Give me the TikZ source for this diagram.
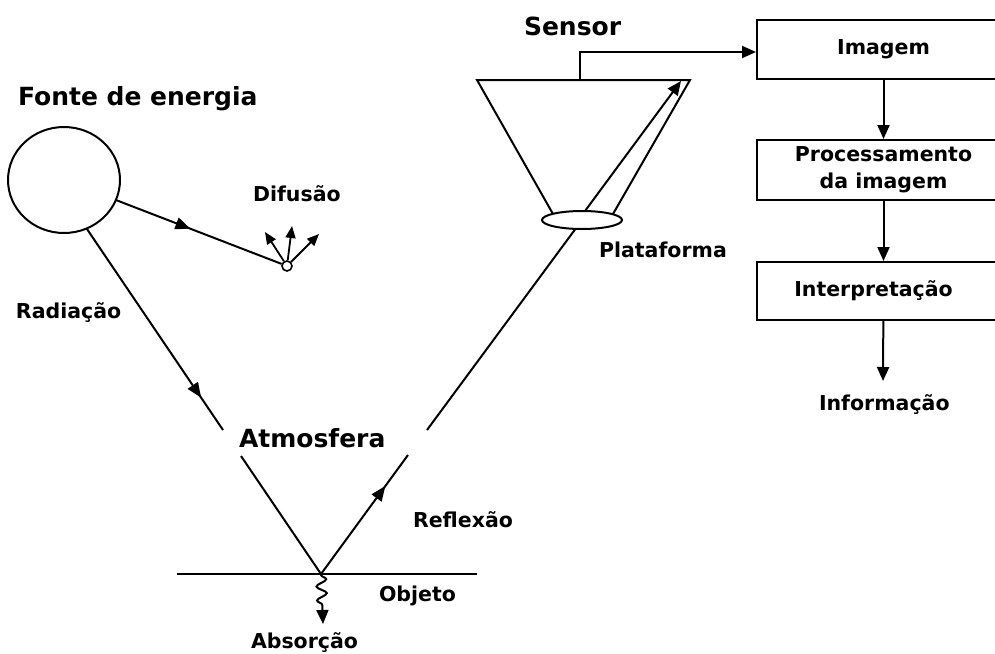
\documentclass[tikz,border=0pt]{standalone}
\usepackage{fontspec}
\setmainfont{DejaVu Sans}
\usetikzlibrary{arrows.meta,decorations.markings,decorations.pathmorphing,shapes.geometric}
\begin{document}
\begin{tikzpicture}[x=1pt,y=1pt,
  line width=2pt,
  tip/.style={-{Triangle[length=14pt,width=12pt]}},
  smalltip/.style={-{Triangle[length=12pt,width=10pt]}},
  lab/.style={font=\fontsize{20.5}{24}\selectfont\bfseries, anchor=base west, inner sep=0},
  biglab/.style={font=\fontsize{25}{30}\selectfont\bfseries, anchor=base west, inner sep=0},
  box/.style={draw, minimum width=253pt, align=center, inner sep=0, font=\fontsize{20.5}{27}\selectfont\bfseries},
  midarrow/.style={postaction={decorate},decoration={markings,mark=at position #1 with {\arrow{Triangle[length=15pt,width=12pt]}}}}]

\useasboundingbox (0,0) rectangle (995,-653);
\clip (0,0) rectangle (995,-653);

% source and diffusion
\node[draw, ellipse, minimum width=112pt, minimum height=106pt, outer sep=0, inner sep=0] (src) at (64,-180) {};
\node[draw, circle, minimum size=10pt, inner sep=0, line width=1.6pt] (dif) at (287,-266) {};
\coordinate (d1) at (265,-232);
\coordinate (d2) at (292,-226);
\coordinate (d3) at (319,-234);

% ray points
\coordinate (g1) at (223,-430);
\coordinate (g2) at (241,-456);
\coordinate (hit) at (321,-574);
\coordinate (g3) at (408,-455);
\coordinate (g4) at (427,-430);
\coordinate (gl) at (177,-574);
\coordinate (gr) at (477,-574);
\coordinate (absend) at (323,-624);

% sensor
\node[draw, ellipse, minimum width=80pt, minimum height=18pt, inner sep=0, outer sep=0] (plat) at (582,-220) {};
\coordinate (tbl) at (553,-214);
\coordinate (ttl) at (477,-80);
\coordinate (ttr) at (690,-80);
\coordinate (tbr) at (613,-214);
\coordinate (sc) at (580,-80);
\coordinate (ir1) at (681,-81);

% boxes
\node[box, minimum height=59pt] (img) at (883.5,-49.5) {Imagem};
\node[box, minimum height=60pt] (proc) at (883.5,-170) {Processamento\\da imagem};
\node[box, minimum height=58pt] (intp) at (883.5,-291) {\raisebox{-5pt}[0pt][0pt]{Interpretação}\hspace*{20pt}};
\coordinate (infoend) at (883,-381);

% drawing
\draw[midarrow=0.45] (src) -- (dif);
\draw[smalltip, line width=1.8pt] (dif) -- (d1);
\draw[smalltip, line width=1.8pt] (dif) -- (d2);
\draw[smalltip, line width=1.8pt] (dif) -- (d3);

\draw[midarrow=0.84] (src.-65) -- (g1);
\draw (g2) -- (hit);
\draw (gl) -- (gr);
\draw[midarrow=0.74] (hit) -- (g3);
\draw (g4) -- (plat);
\draw[tip, decorate, decoration={snake, segment length=14pt, amplitude=5pt, pre length=1pt, post length=13pt}] (hit) -- (absend);

\draw (tbl) -- (ttl) -- (ttr) -- (tbr);
\draw[tip] ([xshift=3pt]plat.north) -- (ir1);
\draw[tip] (sc) |- ([yshift=-2.5pt]img.west);

\draw[tip] (img) -- (proc);
\draw[tip] (proc) -- (intp);
\draw[tip] (intp) -- (infoend);

% labels
\node[biglab] (fonte) at (17,-105) {Fonte de energia};
\node[lab] (rad) at (15,-318) {Radiação};
\node[lab] (difl) at (252,-201) {Difusão};
\node[biglab] (atm) at (238,-447) {Atmosfera};
\node[biglab] (sens) at (523,-35) {Sensor};
\node[lab] (platl) at (598,-257) {Plataforma};
\node[lab] (refl) at (412,-527) {Reflexão};
\node[lab] (obj) at (378,-601) {Objeto};
\node[lab] (absl) at (250,-648) {Absorção};
\node[lab] (info) at (818,-410) {Informação};
\end{tikzpicture}
\end{document}
